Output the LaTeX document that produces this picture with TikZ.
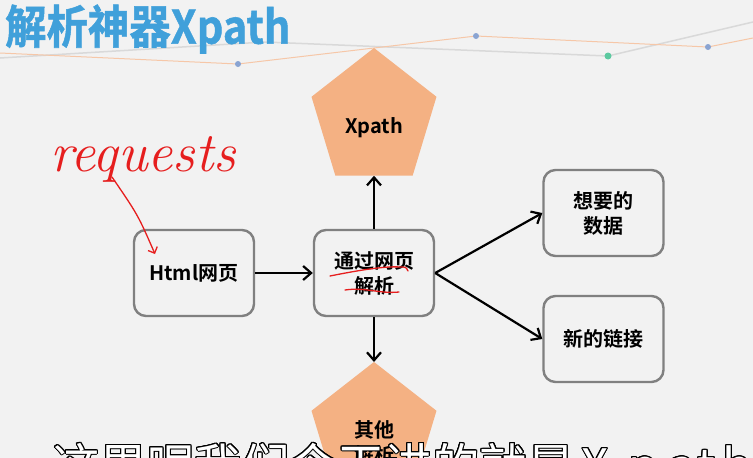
\documentclass[tikz,border=0pt]{standalone}
\usepackage{fontspec}
\setmainfont{Noto Sans CJK SC}[BoldFont={Noto Sans CJK SC Bold}]
\newfontfamily\titlefont{Noto Sans CJK SC Bold}[FakeBold=1.2]
\newfontfamily\handfont{Latin Modern Roman}
\usepackage[copies]{contour}
\usetikzlibrary{shapes.geometric,arrows.meta,positioning}

\definecolor{bgGray}{HTML}{F2F2F2}
\definecolor{titleBlue}{HTML}{40A0DA}
\definecolor{pentOrange}{HTML}{F4B183}
\definecolor{boxGray}{HTML}{808080}
\definecolor{penRed}{HTML}{E61E1E}
\definecolor{lineOrange}{HTML}{F6C7A8}
\definecolor{lineGray}{HTML}{D9D9D9}
\definecolor{dotBlue}{HTML}{8AA4D2}
\definecolor{dotGreen}{HTML}{5CC9A0}
\contourlength{1pt}

\begin{document}
\begin{tikzpicture}[x=1pt,y=1pt]

\tikzset{>={Straight Barb[length=8pt,width=14pt]}}
\tikzset{
  box/.style={draw=boxGray, line width=2.4pt, rounded corners=12pt, fill=bgGray,
    minimum width=120pt, minimum height=86pt, align=center,
    font=\fontsize{20}{25}\selectfont\bfseries},
  pent/.style={regular polygon, regular polygon sides=5, fill=pentOrange,
    minimum size=131.4pt, inner sep=0pt, outer sep=0pt, yscale=1.075, transform shape},
  pentlabel/.style={align=center, font=\fontsize{20}{25}\selectfont\bfseries},
  flow/.style={->, line width=2.2pt},
  pen/.style={penRed, line width=1.3pt, line cap=round},
}
\def\midY{-273}
\def\rightX{603.5}

% page and background
\useasboundingbox (0,0) rectangle (753,-458);
\fill[bgGray] (0,0) rectangle (753,-458);

% decoration at the top
\draw[lineGray, line width=1.5pt] (0,-58) -- (265,-42) -- (608,-56) -- (753,-22);
\draw[lineOrange, line width=1pt] (0,-53) -- (238,-64) -- (476,-36) -- (708,-47) -- (753,-38);
\fill[dotBlue] (238,-64) circle (3pt);
\fill[dotBlue] (476,-36) circle (3pt);
\fill[dotGreen] (608,-56) circle (3.5pt);
\fill[dotBlue] (708,-47) circle (3pt);

\node[anchor=west, text=titleBlue, font=\titlefont\fontsize{46}{46}\selectfont,
  xscale=0.9, transform shape] (title) at (2,-29) {解析神器Xpath};

% pentagons
\node[pent] (xpath) at (374,-118.6) {};
\node[pentlabel] (xpathtext) at (374,-128) {Xpath};
\node[pent] (other) at (374,-432.6) {};
\node[pentlabel] (othertext) at (374,-442.5) {其他\\解析};

% boxes
\node[box] (html) at (194,\midY) {Html网页};
\node[box] (parse) at (374,\midY) {通过网页\\解析};
\node[box] (data) at (\rightX,-213) {想要的\\数据};
\node[box] (link) at (\rightX,-339) {新的链接};

\draw[flow] (html) -- (parse);
\draw[flow] (parse) -- (xpath);
\draw[flow] (parse) -- (other);
\draw[flow] (parse.east) -- (data.west);
\draw[flow] (parse.east) -- (link.west);

% red pen notes
\node[text=penRed, font=\handfont\itshape\fontsize{56}{56}\selectfont] (req) at (143,-159) {requests};
\coordinate (reqfrom) at (112,-177);
\coordinate (reqto) at (155,-254);
\draw[pen, ->, >={Straight Barb[length=5pt,width=10pt]}] (reqfrom) .. controls (138,-215) .. (reqto);
\draw[pen] (330,-276) .. controls (360,-270) and (385,-266) .. (400,-267) .. controls (406,-267) .. (408,-271);
\draw[pen] (345,-290) .. controls (365,-287) and (380,-294) .. (399,-292);

% subtitle
\node[anchor=base west, font=\fontsize{47.5}{47.5}\selectfont, inner sep=0pt] (sub) at (52,-483)
  {\contour{black}{\textcolor{white}{这里呢我们今天讲的就是}}};
\foreach \ch/\x in {X/595,p/643,a/681.5,t/706.5,h/737}
  \node[anchor=base, font=\fontsize{47.5}{47.5}\selectfont, inner sep=0pt] at (\x,-483)
    {\contour{black}{\textcolor{white}{\ch}}};

\end{tikzpicture}
\end{document}
